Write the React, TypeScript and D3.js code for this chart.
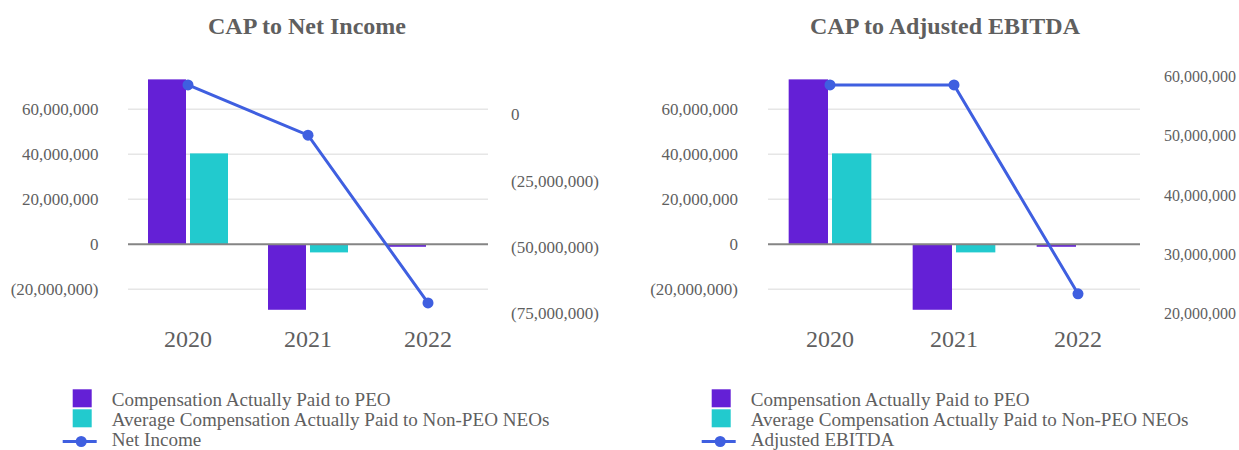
import React from "react";
import * as d3 from "d3";

const years = ["2020", "2021", "2022"];
const peoCAP = [73.3e6, -29.1e6, -1.1e6];
const neoCAP = [40.4e6, -3.6e6, 0];
const netIncome = [11.1e6, -7.85e6, -71.1e6];
const adjEBITDA = [58.6e6, 58.6e6, 23.3e6];
const leftTicks = [-20e6, 0, 20e6, 40e6, 60e6];
const netIncomeTicks = [0, -25e6, -50e6, -75e6];
const ebitdaTicks = [20e6, 30e6, 40e6, 50e6, 60e6];
const legendLabels = [
  "Compensation Actually Paid to PEO",
  "Average Compensation Actually Paid to Non-PEO NEOs",
];

const PEO_COLOR = "#6420D6";
const NEO_COLOR = "#22CACE";
const LINE_COLOR = "#3F5FE0";
const TEXT_COLOR = "#5f5f5f";
const FONT = "'Liberation Serif', 'Times New Roman', serif";

const fmt = (v: number) => {
  const s = d3.format(",")(Math.abs(v));
  return v < 0 ? `(${s})` : s;
};

type ChartProps = {
  title: string;
  titleX: number;
  x0: number;
  x1: number;
  leftLabelX: number;
  rightLabelX: number;
  rightLabelSize: number;
  rightDomain: [number, number];
  rightRange: [number, number];
  rightTicks: number[];
  lineValues: number[];
  lineLabel: string;
  legendX: number;
};

function Chart(p: ChartProps) {
  const x = d3.scaleBand<string>().domain(years).range([p.x0, p.x1]).paddingInner(0).paddingOuter(0);
  const y = d3.scaleLinear().domain([-20e6, 60e6]).range([289.3, 109.3]);
  const yr = d3.scaleLinear().domain(p.rightDomain).range(p.rightRange);
  const bw = x.bandwidth();
  const pad = bw / 6;
  const gap = 4;
  const barW = (bw - 2 * pad - gap) / 2;
  const line = d3
    .line<number>()
    .x((_, i) => (x(years[i]) as number) + bw / 2)
    .y((d) => yr(d));

  const bar = (v: number, bx: number, color: string, key: string) => {
    const top = Math.min(y(v), y(0));
    const h = Math.abs(y(v) - y(0));
    return <rect key={key} x={bx} y={top} width={barW} height={h} fill={color} />;
  };

  return (
    <g>
      <text
        x={p.titleX}
        y={33.5}
        textAnchor="middle"
        fontFamily={FONT}
        fontWeight="bold"
        fontSize={24}
        fill={TEXT_COLOR}
      >
        {p.title}
      </text>
      {leftTicks.map((t) =>
        t === 0 ? null : (
          <line key={"g" + t} x1={p.x0} x2={p.x1} y1={y(t)} y2={y(t)} stroke="#e6e6e6" strokeWidth={1.5} />
        )
      )}
      {leftTicks.map((t) => (
        <text
          key={"l" + t}
          x={p.leftLabelX}
          y={y(t)}
          dy="0.35em"
          textAnchor="end"
          fontFamily={FONT}
          fontSize={17}
          fill={TEXT_COLOR}
        >
          {fmt(t)}
        </text>
      ))}
      {p.rightTicks.map((t) => (
        <text
          key={"r" + t}
          x={p.rightLabelX}
          y={yr(t)}
          dy="0.35em"
          textAnchor="start"
          fontFamily={FONT}
          fontSize={p.rightLabelSize}
          fill={TEXT_COLOR}
        >
          {fmt(t)}
        </text>
      ))}
      {years.map((yrLabel, i) => {
        const bx = (x(yrLabel) as number) + pad;
        return (
          <g key={yrLabel}>
            {bar(peoCAP[i], bx, PEO_COLOR, "p" + i)}
            {bar(neoCAP[i], bx + barW + gap, NEO_COLOR, "n" + i)}
          </g>
        );
      })}
      <line x1={p.x0} x2={p.x1} y1={y(0)} y2={y(0)} stroke="#858585" strokeWidth={2} />
      {years.map((yrLabel) => (
        <text
          key={"x" + yrLabel}
          x={(x(yrLabel) as number) + bw / 2}
          y={346.5}
          textAnchor="middle"
          fontFamily={FONT}
          fontSize={24}
          fill={TEXT_COLOR}
        >
          {yrLabel}
        </text>
      ))}
      <path d={line(p.lineValues) || ""} fill="none" stroke={LINE_COLOR} strokeWidth={3} />
      {p.lineValues.map((v, i) => (
        <circle key={"c" + i} cx={(x(years[i]) as number) + bw / 2} cy={yr(v)} r={5.5} fill={LINE_COLOR} />
      ))}
      {legendLabels.map((lab, i) => (
        <g key={"lg" + i}>
          <rect
            x={p.legendX}
            y={389.3 + i * 20}
            width={19}
            height={18}
            fill={i === 0 ? PEO_COLOR : NEO_COLOR}
          />
          <text x={p.legendX + 39} y={406 + i * 20} fontFamily={FONT} fontSize={19.1} fill={TEXT_COLOR}>
            {lab}
          </text>
        </g>
      ))}
      <line
        x1={p.legendX - 10}
        x2={p.legendX + 24}
        y1={441.5}
        y2={441.5}
        stroke={LINE_COLOR}
        strokeWidth={3}
      />
      <circle cx={p.legendX + 8.5} cy={441.5} r={5.5} fill={LINE_COLOR} />
      <text x={p.legendX + 39} y={446} fontFamily={FONT} fontSize={19.1} fill={TEXT_COLOR}>
        {p.lineLabel}
      </text>
    </g>
  );
}

export default function App() {
  return (
    <svg
      width={1239}
      height={450}
      style={{ position: "absolute", left: 0, top: 0, background: "#fff" }}
    >
      <rect width={1239} height={450} fill="#fff" />
      <Chart
        title="CAP to Net Income"
        titleX={307}
        x0={128}
        x1={488}
        leftLabelX={98.5}
        rightLabelX={511}
        rightLabelSize={17}
        rightDomain={[-75e6, 0]}
        rightRange={[313.3, 114.4]}
        rightTicks={netIncomeTicks}
        lineValues={netIncome}
        lineLabel="Net Income"
        legendX={72.7}
      />
      <Chart
        title="CAP to Adjusted EBITDA"
        titleX={945}
        x0={768}
        x1={1140}
        leftLabelX={738}
        rightLabelX={1164}
        rightLabelSize={16}
        rightDomain={[20e6, 60e6]}
        rightRange={[313.3, 76.7]}
        rightTicks={ebitdaTicks}
        lineValues={adjEBITDA}
        lineLabel="Adjusted EBITDA"
        legendX={711.7}
      />
    </svg>
  );
}
